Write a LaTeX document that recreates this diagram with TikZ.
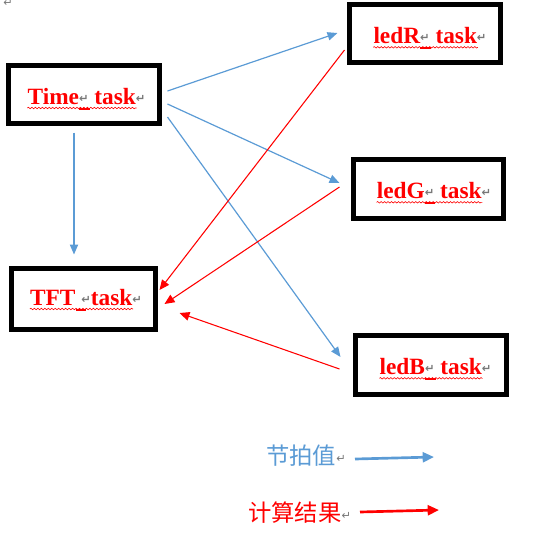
\documentclass[tikz,border=0pt]{standalone}
\usepackage{fontspec}
\setmainfont{Liberation Serif}
\newfontfamily\cjk{Noto Sans CJK SC}
\newfontfamily\dvs{DejaVu Sans}
\usetikzlibrary{arrows.meta,calc,decorations.pathmorphing}
\definecolor{tblue}{RGB}{91,155,213}
\definecolor{tred}{RGB}{255,0,0}
\definecolor{tgray}{RGB}{120,120,120}
\newcommand\retmark{{\dvs\fontsize{8.5}{8.5}\selectfont\color{tgray}\raisebox{1.5pt}{↵}}}
\newcommand\spdash{\makebox[0pt][l]{\color{tred}\raisebox{-4.5pt}{\rule{8pt}{1.6pt}}}}
\tikzset{
  taskbox/.style={draw=black,line width=3.75pt,inner sep=0pt,fill=white},
  tasktext/.style={inner sep=0pt,anchor=base,text=tred,font=\bfseries\fontsize{17.5}{20}\selectfont},
  squig/.style={draw=tred,line width=0.45pt,decorate,decoration={snake,amplitude=0.55pt,segment length=2.6pt}},
  bluearrow/.style={draw=tblue,line width=0.9pt,-{Triangle[length=7.5pt,width=6.2pt]}},
  redarrow/.style={draw=tred,line width=0.8pt,-{Triangle[length=7.5pt,width=6.5pt]}},
  legtext/.style={inner sep=0pt,anchor=west,font=\cjk\fontsize{17.5}{20}\selectfont},
}
\begin{document}
\begin{tikzpicture}[x=0.75pt,y=-0.75pt]
\useasboundingbox (0,0) rectangle (533,537);
% boxes
\node[taskbox,minimum width=113.25pt,minimum height=43.5pt] (time) at (84,94.5) {};
\node[taskbox,minimum width=113.25pt,minimum height=43.5pt] (ledR) at (425,33.5) {};
\node[taskbox,minimum width=112.5pt,minimum height=44.25pt] (ledG) at (428.5,189) {};
\node[taskbox,minimum width=113.25pt,minimum height=44.25pt] (ledB) at (431,365) {};
\node[taskbox,minimum width=108pt,minimum height=45.75pt] (tft) at (83.5,299) {};
% texts
\node[tasktext] (timeT) at (86.5,104) {Time\spdash{\retmark}\ task{\retmark}};
\node[tasktext] (ledRT) at (430,43.3) {ledR\spdash{\retmark}\ task{\retmark}};
\node[tasktext] (ledGT) at (434,198.3) {ledG\spdash{\retmark}\ task{\retmark}};
\node[tasktext] (ledBT) at (435.5,374.3) {ledB\spdash{\retmark}\ task{\retmark}};
\node[tasktext] (tftT) at (86,305) {TFT\spdash\ {\retmark}task{\retmark}};
% squiggles
\foreach \t in {timeT,ledRT,ledGT,ledBT,tftT}{
  \draw[squig] ($(\t.base west)+(0,4)$) -- ($(\t.base east)+(-9,4)$);
}
% top-left paragraph mark
\node[inner sep=0pt] (pmark) at (8,4) {\retmark};
% blue arrows
\draw[bluearrow] ($(time.east)+(5.5,-3.5)$) -- ($(ledR.west)+(-9.5,-0.5)$);
\draw[bluearrow] ($(time.east)+(5.5,9.5)$) -- ($(ledG.west)+(-11.5,-6)$);
\draw[bluearrow] ($(time.east)+(5.5,22.5)$) -- ($(ledB.west)+(-12.5,-8)$);
\draw[bluearrow] ($(time.south)+(-10,6.5)$) -- ($(tft.north)+(-9.5,-11.5)$);
% red arrows
\draw[redarrow] ($(ledR.west)+(-2.5,16.5)$) -- ($(tft.east)+(1.5,-9)$);
\draw[redarrow] ($(ledG.west)+(-11.5,-2)$) -- ($(tft.east)+(6.5,5)$);
\draw[redarrow] ($(ledB.west)+(-13.5,4)$) -- ($(tft.east)+(21.5,14)$);
% legend
\node[legtext,text=tblue] (lgb) at (266,456) {节拍值{\retmark}};
\node[legtext,text=tred] (lgr) at (248,513) {计算结果{\retmark}};
\coordinate (lgbS) at (355,459);
\coordinate (lgbE) at (434,457);
\coordinate (lgrS) at (360,512);
\coordinate (lgrE) at (439,510);
\draw[draw=tblue,line width=2pt,-{Triangle[length=8.5pt,width=7.5pt]}] (lgbS) -- (lgbE);
\draw[draw=tred,line width=2pt,-{Triangle[length=8.5pt,width=7.5pt]}] (lgrS) -- (lgrE);
\end{tikzpicture}
\end{document}
